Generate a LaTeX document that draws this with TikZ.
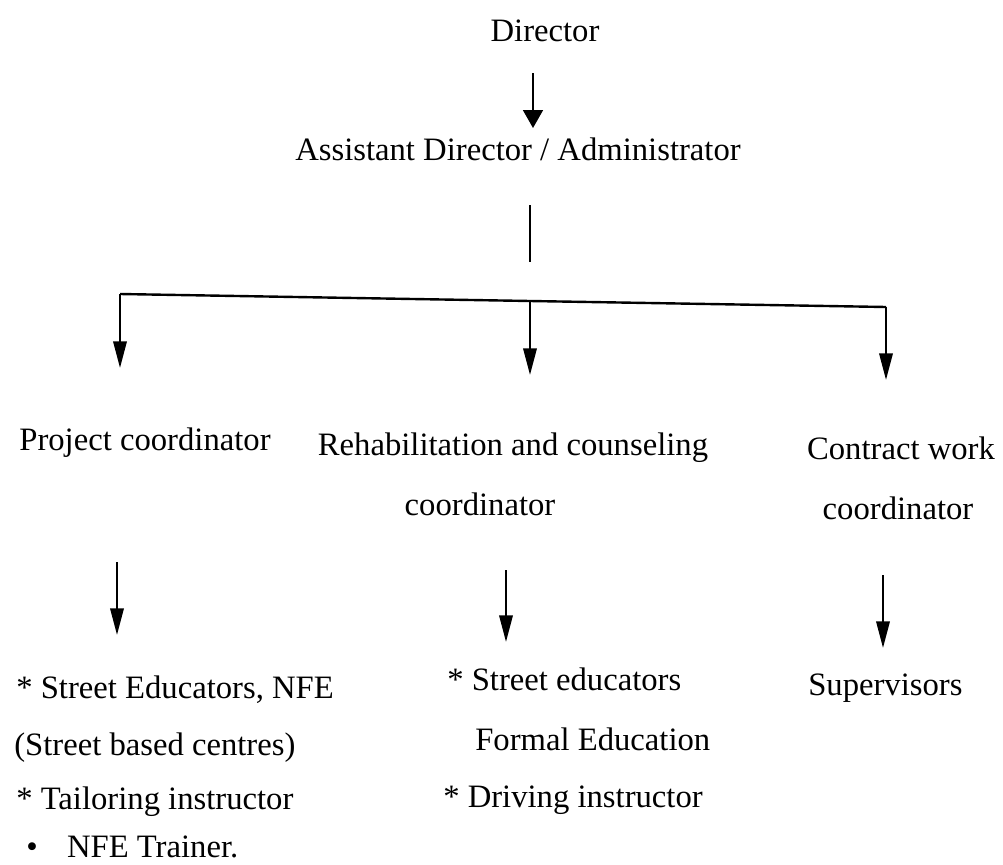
\documentclass[tikz,border=0pt]{standalone}
\usepackage{fontspec}
\setmainfont{Liberation Serif}
\usetikzlibrary{arrows.meta}
\begin{document}
\begin{tikzpicture}[x=0.75pt,y=-0.75pt,
  lbl/.style={inner sep=0pt, font=\fontsize{24.5}{29}\selectfont},
  ctr/.style={lbl, anchor=base},
  lft/.style={lbl, anchor=base west},
  conn/.style={line width=1.8pt},
  arr/.style={conn, -{Triangle[length=20pt,width=10pt]}},
  toparr/.style={line width=1.3pt, -{Triangle[length=13.5pt,width=15pt]}}]
\useasboundingbox (0,0) rectangle (1003,864);
% texts
\node[ctr] (dir) at (545,41) {Director};
\node[ctr] (asst) at (518,160) {Assistant Director / Administrator};
\node[ctr] (proj) at (145,450) {Project coordinator};
\node[ctr] (rehab) at (513,455) {Rehabilitation and counseling};
\node[ctr] (rehabb) at (480,515) {coordinator};
\node[ctr] (contr) at (901,459) {Contract work};
\node[ctr] (contrb) at (898,519) {coordinator};
\node[lft] (p1) at (16,698) {* Street Educators, NFE};
\node[lft] (p2) at (14,755) {(Street based centres)};
\node[lft] (p3) at (16,809) {* Tailoring instructor};
\node[lft] (p4) at (26,857) {•\hspace{22pt}NFE Trainer.};
\node[lft] (r1) at (447,690) {* Street educators};
\node[lft] (r2) at (475,750) {Formal Education};
\node[lft] (r3) at (443,807) {* Driving instructor};
\node[lft] (c1) at (808,695) {Supervisors};
% connector coordinates
\coordinate (d0) at (533,73);
\coordinate (d1) at (533,128);
\coordinate (a0) at (530,205);
\coordinate (a1) at (530,262);
\coordinate (bl) at (120,294);
\coordinate (bm) at (530,301);
\coordinate (br) at (886,307);
\coordinate (tl) at (120,368);
\coordinate (tm) at (530,375);
\coordinate (tr) at (886,380);
\coordinate (ql0) at (117,562);
\coordinate (ql1) at (117,635);
\coordinate (qm0) at (506,570);
\coordinate (qm1) at (506,642);
\coordinate (qr0) at (883,575);
\coordinate (qr1) at (883,648);
% connectors
\draw[toparr] (d0) -- (d1);
\draw[conn] (a0) -- (a1);
\draw[conn] (bl) -- (bm) -- (br);
\draw[arr] (bl) -- (tl);
\draw[arr] (bm) -- (tm);
\draw[arr] (br) -- (tr);
\draw[arr] (ql0) -- (ql1);
\draw[arr] (qm0) -- (qm1);
\draw[arr] (qr0) -- (qr1);
\end{tikzpicture}
\end{document}
